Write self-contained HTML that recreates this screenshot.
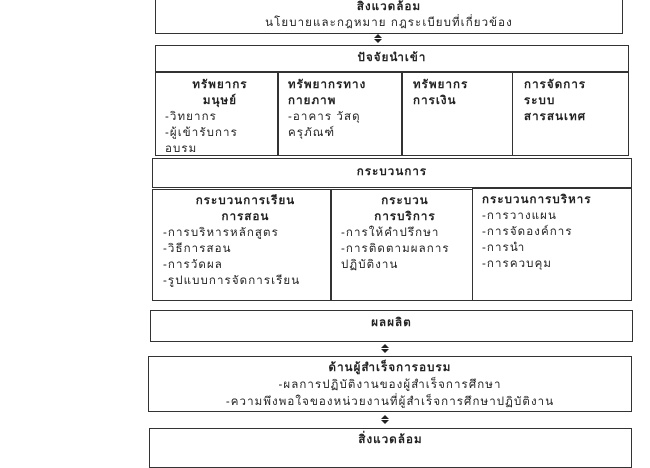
<!DOCTYPE html>
<html><head><meta charset="utf-8"><style>
body{margin:0;width:650px;height:450px;background:#fff;position:relative;overflow:hidden;font-family:"Liberation Sans","DejaVu Sans",sans-serif;font-size:11.5px;letter-spacing:1.1px;color:#222}
.b{position:absolute;border:1.5px solid #333;box-sizing:border-box}
.c{text-align:center}
.t{font-weight:bold}
.p{position:absolute;line-height:16px;white-space:nowrap}
.arr{position:absolute;width:0;height:0;border-left:4px solid transparent;border-right:4px solid transparent}
</style></head><body>
<div class="b c" style="left:155px;top:-4px;width:468px;height:38px;line-height:16px;padding-top:2px"><div class="t">สิ่งแวดล้อม</div><div>นโยบายและกฎหมาย กฎระเบียบที่เกี่ยวข้อง</div></div>
<div class="arr" style="left:374px;top:34px;border-bottom:4px solid #222"></div><div class="arr" style="left:374px;top:39px;border-top:4px solid #222"></div>
<div class="b c t" style="left:155px;top:45px;width:474px;height:28px;line-height:24px">ปัจจัยนำเข้า</div>
<div class="b" style="left:155px;top:71px;width:474px;height:85px"></div>
<div style="position:absolute;left:277px;top:72px;width:1.5px;height:83px;background:#333"></div>
<div style="position:absolute;left:401px;top:72px;width:1.5px;height:83px;background:#333"></div>
<div class="b" style="left:512px;top:72px;width:0;height:83px;border-width:0 0 0 1.5px"></div>
<div class="p" style="left:165px;top:77px;width:110px"><div class="t c">ทรัพยากร<br>มนุษย์</div>-วิทยากร<br>-ผู้เข้ารับการ<br>อบรม</div>
<div class="p" style="left:288px;top:77px"><span class="t">ทรัพยากรทาง<br>กายภาพ</span><br>-อาคาร วัสดุ<br>ครุภัณฑ์</div>
<div class="p t" style="left:413px;top:77px">ทรัพยากร<br>การเงิน</div>
<div class="p t" style="left:524px;top:77px">การจัดการ<br>ระบบ<br>สารสนเทศ</div>
<div class="b c t" style="left:152px;top:158px;width:480px;height:30px;line-height:26px">กระบวนการ</div>
<div class="b" style="left:152px;top:189px;width:180px;height:112px"></div>
<div class="b" style="left:330px;top:189px;width:143px;height:112px"></div>
<div class="b" style="left:472px;top:188px;width:160px;height:113px"></div>
<div class="p" style="left:163px;top:193px;width:165px"><div class="t c">กระบวนการเรียน<br>การสอน</div>-การบริหารหลักสูตร<br>-วิธีการสอน<br>-การวัดผล<br>-รูปแบบการจัดการเรียน</div>
<div class="p" style="left:341px;top:193px;width:128px"><div class="t c">กระบวน<br>การบริการ</div>-การให้คำปรึกษา<br>-การติดตามผลการ<br>ปฏิบัติงาน</div>
<div class="p" style="left:482px;top:192px"><div class="t">กระบวนการบริหาร</div>-การวางแผน<br>-การจัดองค์การ<br>-การนำ<br>-การควบคุม</div>
<div class="b c t" style="left:150px;top:310px;width:483px;height:32px;line-height:24px">ผลผลิต</div>
<div class="arr" style="left:381px;top:344px;border-bottom:4px solid #222"></div><div class="arr" style="left:381px;top:349px;border-top:4px solid #222"></div>
<div class="b c" style="left:148px;top:356px;width:484px;height:56px;line-height:17px;padding-top:3px"><div class="t">ด้านผู้สำเร็จการอบรม</div><div>-ผลการปฏิบัติงานของผู้สำเร็จการศึกษา</div><div>-ความพึงพอใจของหน่วยงานที่ผู้สำเร็จการศึกษาปฏิบัติงาน</div></div>
<div class="arr" style="left:381px;top:415px;border-bottom:4px solid #222"></div><div class="arr" style="left:381px;top:420px;border-top:4px solid #222"></div>
<div class="b c t" style="left:149px;top:428px;width:483px;height:40px;line-height:22px">สิ่งแวดล้อม</div>
</body></html>
